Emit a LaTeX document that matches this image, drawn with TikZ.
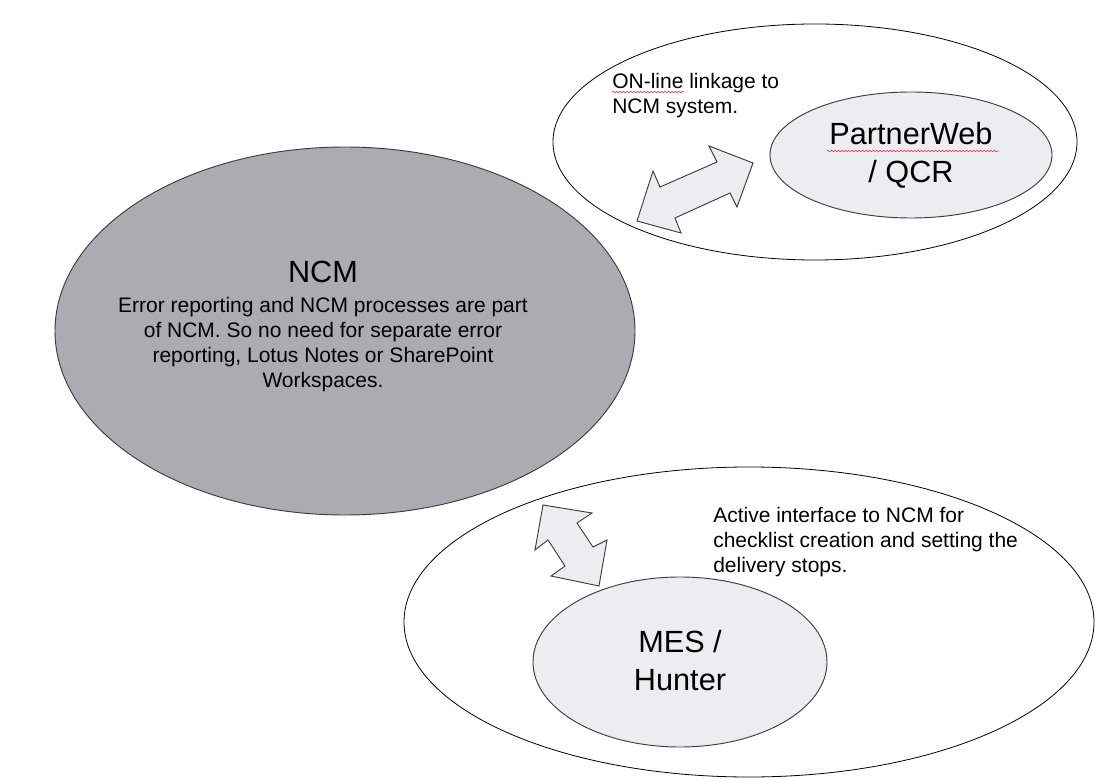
\documentclass[tikz,border=0pt]{standalone}
\usepackage{fontspec}
\setmainfont{Liberation Sans}
\usetikzlibrary{shapes.geometric,decorations.pathmorphing}

\definecolor{coregray}{RGB}{170,172,177}
\definecolor{softgray}{RGB}{236,237,240}
\definecolor{edgegray}{RGB}{60,60,60}
\definecolor{squiggle}{RGB}{232,70,70}

\begin{document}
\begin{tikzpicture}[x=0.75pt,y=-0.75pt,
  zone/.style={ellipse, draw=black, line width=0.6pt, fill=white, inner sep=0pt},
  hub/.style={ellipse, draw=edgegray, line width=0.7pt, fill=softgray, inner sep=0pt},
  core/.style={ellipse, draw=edgegray, line width=0.7pt, fill=coregray, inner sep=0pt},
  note/.style={inner sep=0pt, font=\fontsize{15.75pt}{18.75pt}\selectfont},
  big/.style={inner sep=0pt, align=center, font=\fontsize{23pt}{28.5pt}\selectfont},
  link/.style={draw=edgegray, line width=0.7pt, fill=softgray, line join=miter},
  spell/.style={draw=squiggle, line width=0.5pt, decorate,
    decoration={snake, amplitude=0.55pt, segment length=2.6pt}}
]
\useasboundingbox (0,0) rectangle (1096,780);

% outer zones
\node[zone, minimum width=393pt, minimum height=177pt] (webzone) at (815,142) {};
\node[zone, minimum width=517.5pt, minimum height=232.5pt] (meszone) at (749,622) {};

% central NCM ellipse
\node[core, minimum width=435pt, minimum height=276pt] (ncm) at (345,331) {};
\node[inner sep=0pt, anchor=base, font=\fontsize{23pt}{28pt}\selectfont] (ncmtitle) at (323,283) {NCM};
\node[note, align=center, anchor=north] (ncmbody) at (323,296.7)
  {Error reporting and NCM processes are part\\of NCM. So no need for separate error\\reporting, Lotus Notes or SharePoint\\Workspaces.};

% inner systems
\node[hub, minimum width=211.5pt, minimum height=94.5pt] (pw) at (911,155) {};
\node[big, anchor=north] (pwtext) at (911,122.4) {PartnerWeb\\/ QCR};
\node[hub, minimum width=220.5pt, minimum height=127.5pt] (mes) at (680,662) {};
\node[big, anchor=north] (mestext) at (680,630.4) {MES /\\Hunter};

% notes
\node[note, align=left, anchor=north west] (webnote) at (612,72.7)
  {ON-line linkage to\\NCM system.};
\node[note, align=left, anchor=north west] (mesnote) at (713,506.7)
  {Active interface to NCM for\\checklist creation and setting the\\delivery stops.};

% spell-check marks
\coordinate (sqA1) at (612,92);  \coordinate (sqA2) at (684,92);
\coordinate (sqB1) at (827,151); \coordinate (sqB2) at (999,151);
\draw[spell] (sqA1) -- (sqA2);
\draw[spell] (sqB1) -- (sqB2);

% double-headed block arrows
\draw[link] (753,163) -- (737,207) -- (730,193) -- (675,218) -- (681,233)
  -- (637,221) -- (653,171) -- (660,187) -- (717,162) -- (709,146) -- cycle;
\draw[link] (543,505) -- (592,513) -- (577,523) -- (593,547) -- (607,540)
  -- (599,586) -- (551,576) -- (565,566) -- (548,540) -- (535,550) -- cycle;
\end{tikzpicture}
\end{document}
